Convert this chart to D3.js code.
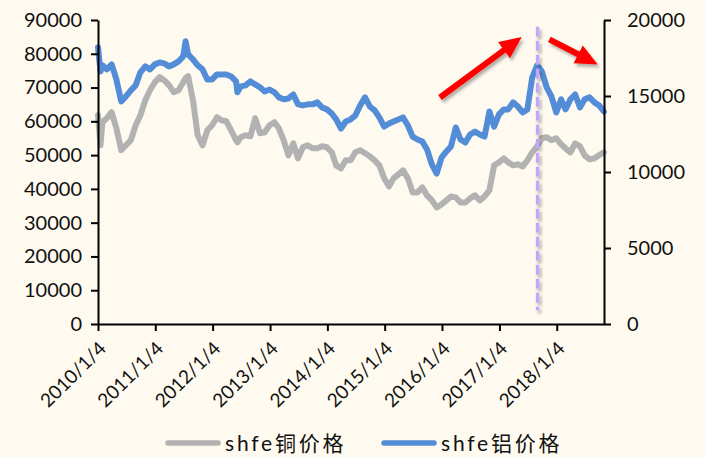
<!DOCTYPE html>
<html>
<head>
<meta charset="utf-8">
<script src="https://cdn.jsdelivr.net/npm/d3@7"></script>
<style>
  html, body { margin: 0; padding: 0; background: #FEFAEF; }
  svg { display: block; }
  text { font-family: Lato, "Noto Sans CJK SC", sans-serif; fill: #111; }
</style>
</head>
<body>
<svg id="chart" width="705" height="457"></svg>
<script>
// SHFE copper (left axis) and aluminium (right axis) prices, CNY/t
const dates = [
  "2010-01-04","2010-01-20","2010-02-01","2010-03-01","2010-04-01","2010-05-01","2010-06-01","2010-07-01","2010-08-01","2010-09-01","2010-10-01","2010-11-01","2010-12-01",
  "2011-01-01","2011-02-01","2011-03-01","2011-04-01","2011-05-01","2011-06-01","2011-07-01","2011-07-16","2011-08-01","2011-09-01","2011-10-01","2011-11-01","2011-12-01",
  "2012-01-01","2012-02-01","2012-03-01","2012-04-01","2012-05-01","2012-06-01","2012-06-10","2012-07-01","2012-08-01","2012-09-01","2012-10-01","2012-11-01","2012-12-01",
  "2013-01-01","2013-02-01","2013-03-01","2013-04-01","2013-05-01","2013-06-01","2013-07-01","2013-08-01","2013-09-01","2013-10-01","2013-11-01","2013-12-01",
  "2014-01-01","2014-02-01","2014-03-01","2014-04-01","2014-05-01","2014-06-01","2014-07-01","2014-08-01","2014-09-01","2014-10-01","2014-11-01","2014-12-01",
  "2015-01-01","2015-02-01","2015-03-01","2015-04-01","2015-05-01","2015-06-01","2015-07-01","2015-08-01","2015-09-01","2015-10-01","2015-11-01","2015-12-01",
  "2016-01-01","2016-02-01","2016-03-01","2016-04-01","2016-05-01","2016-06-01","2016-07-01","2016-08-01","2016-09-01","2016-10-01","2016-11-01","2016-12-01",
  "2017-01-01","2017-02-01","2017-03-01","2017-04-01","2017-05-01","2017-06-01","2017-07-01","2017-08-01","2017-09-01","2017-10-01","2017-11-01","2017-12-01",
  "2018-01-01","2018-02-01","2018-03-01","2018-04-01","2018-05-01","2018-06-01","2018-07-01","2018-08-01","2018-09-01","2018-10-01","2018-10-31"
];

const copper = [
  61780,52900,59730,60910,62690,57950,51420,52900,54390,58840,61800,66250,69220,
  71590,73080,72190,70700,68630,69220,71590,72780,73370,66250,55870,52900,57350,
  58840,61210,60320,60020,57350,54390,53800,55280,55870,55570,60910,56460,56760,
  58840,59730,57950,54390,49940,53500,49050,52310,52900,52010,52010,52610,
  52310,50830,46970,46080,48450,48450,50830,51420,50530,49640,48450,46970,
  43110,40740,43110,44300,45490,43110,38960,38960,40440,38070,36580,34510,
  35400,36580,37770,37470,35990,35990,37180,38070,36580,37770,39550,46970,
  47860,49050,47860,46970,47270,46670,48450,50830,52610,54980,55280,54390,
  54980,53200,52010,50830,53500,52610,49940,48750,49050,49940,50830
];

const aluminum = [
  18200,16620,17020,16750,17080,16090,14640,14970,15370,15700,16560,16950,16750,
  17080,17210,17150,16950,17080,17280,17610,18600,17740,17410,17020,16750,16090,
  16090,16420,16420,16420,16290,15960,15240,15630,15700,15960,15760,15570,15300,
  15430,15240,14910,14780,14840,15100,14450,14380,14450,14450,14580,14250,
  14120,13850,13460,12860,13320,13460,13720,14380,14910,14310,14050,13590,
  12990,13190,13320,13460,13590,13060,12330,12140,12000,11480,10490,9900,
  10950,11350,11680,12930,12140,11940,12470,12660,12470,12330,13980,12990,
  13790,14120,14120,14580,14310,13920,14120,16230,17020,16620,15570,14970,
  13920,14780,14120,14780,15100,14250,14780,14910,14580,14380,13980
];

const xTickLabels = ["2010/1/4","2011/1/4","2012/1/4","2013/1/4","2014/1/4","2015/1/4","2016/1/4","2017/1/4","2018/1/4"];
const leftTicks = [0,10000,20000,30000,40000,50000,60000,70000,80000,90000];
const rightTicks = [0,5000,10000,15000,20000];
const seriesNames = ["shfe铜价格","shfe铝价格"];
const seriesColors = ["#B2B2B2","#548DD7"];

// annotation: peak marker and trend arrows (date, aluminium price)
const peakDate = "2017-09-04";
const arrowUp = [["2015-12-22",14900],["2017-05-26",18880]];
const arrowDown = [["2017-11-18",18730],["2018-09-22",17080]];

const W = 705, H = 457;
const margin = {top: 20, right: 101, bottom: 133, left: 98};
const parse = d3.timeParse("%Y-%m-%d");
const parseTick = d3.timeParse("%Y/%m/%d");

const svg = d3.select("#chart");
svg.append("rect").attr("width", W).attr("height", H).attr("fill", "#FEFAEF");

const defs = svg.append("defs");
const sh = defs.append("filter").attr("id", "shadow")
  .attr("filterUnits", "userSpaceOnUse")
  .attr("x", 0).attr("y", 0).attr("width", W).attr("height", H);
sh.append("feDropShadow").attr("dx", 2).attr("dy", 3).attr("stdDeviation", 1.8)
  .attr("flood-color", "#000").attr("flood-opacity", 0.3);

const x = d3.scaleTime()
  .domain([parse("2010-01-04"), parse("2018-11-01")])
  .range([margin.left, W - margin.right]);
const yL = d3.scaleLinear().domain([0, 90000]).range([H - margin.bottom, margin.top]);
const yR = d3.scaleLinear().domain([0, 20000]).range([H - margin.bottom, margin.top]);

const rows = dates.map((d, i) => ({date: parse(d), cu: copper[i], al: aluminum[i]}));

// series lines
const lineCu = d3.line().x(d => x(d.date)).y(d => yL(d.cu));
const lineAl = d3.line().x(d => x(d.date)).y(d => yR(d.al));
svg.append("path").datum(rows).attr("d", lineCu)
  .attr("fill", "none").attr("stroke", seriesColors[0]).attr("stroke-width", 6)
  .attr("stroke-linejoin", "round").attr("stroke-linecap", "round");
svg.append("path").datum(rows).attr("d", lineAl)
  .attr("fill", "none").attr("stroke", seriesColors[1]).attr("stroke-width", 6)
  .attr("stroke-linejoin", "round").attr("stroke-linecap", "round");

// axes
const axisStyle = g => {
  g.selectAll(".domain").attr("stroke", "#000").attr("stroke-width", 2);
  g.selectAll(".tick line").attr("stroke", "#000").attr("stroke-width", 2);
  g.selectAll("text").attr("font-size", 20).attr("fill", "#111")
    .style("font-family", "Lato, 'Noto Sans CJK SC', sans-serif");
};

svg.append("g").attr("transform", `translate(${margin.left},0)`)
  .call(d3.axisLeft(yL).tickValues(leftTicks).tickFormat(d3.format("d"))
    .tickSize(7).tickSizeOuter(0).tickPadding(9))
  .call(axisStyle);

svg.append("g").attr("transform", `translate(${W - margin.right},0)`)
  .call(d3.axisRight(yR).tickValues(rightTicks).tickFormat(d3.format("d"))
    .tickSize(7).tickSizeOuter(0).tickPadding(16))
  .call(axisStyle);

const xAxis = svg.append("g").attr("transform", `translate(0,${H - margin.bottom})`)
  .call(d3.axisBottom(x).tickValues(xTickLabels.map(s => parseTick(s)))
    .tickFormat((d, i) => xTickLabels[i]).tickSize(7).tickSizeOuter(0))
  .call(axisStyle);
xAxis.selectAll("text")
  .attr("font-size", 19)
  .attr("text-anchor", "end")
  .attr("dy", "0.35em")
  .attr("y", 0)
  .attr("transform", "translate(4,21) rotate(-45)");

// vertical marker at the aluminium peak
const px = x(parse(peakDate));
svg.append("line")
  .attr("x1", px).attr("x2", px)
  .attr("y1", yR(19550)).attr("y2", yR(900))
  .attr("stroke", "#C3A6F7").attr("stroke-width", 3.5)
  .attr("stroke-dasharray", "10,4")
  .attr("filter", "url(#shadow)");

// trend arrows
function arrow(pts) {
  const x0 = x(parse(pts[0][0])), y0 = yR(pts[0][1]);
  const x1 = x(parse(pts[1][0])), y1 = yR(pts[1][1]);
  const dx = x1 - x0, dy = y1 - y0, len = Math.hypot(dx, dy);
  const ux = dx / len, uy = dy / len, nx = -uy, ny = ux;
  const headL = 22, headW = 10, shaft = 3;
  const bx = x1 - ux * headL, by = y1 - uy * headL;
  const p = [
    [x0 + nx * shaft, y0 + ny * shaft],
    [bx + nx * shaft, by + ny * shaft],
    [bx + nx * headW, by + ny * headW],
    [x1, y1],
    [bx - nx * headW, by - ny * headW],
    [bx - nx * shaft, by - ny * shaft],
    [x0 - nx * shaft, y0 - ny * shaft]
  ];
  svg.append("path").attr("d", "M" + p.map(q => q.join(",")).join("L") + "Z")
    .attr("fill", "#FF0000").attr("filter", "url(#shadow)");
}
arrow(arrowUp);
arrow(arrowDown);

// legend
const legend = svg.append("g").attr("transform", `translate(0,${H - 14})`);
const legendX = [166, 382];
seriesNames.forEach((name, i) => {
  const g = legend.append("g").attr("transform", `translate(${legendX[i]},0)`);
  g.append("line").attr("x1", 2).attr("x2", 52).attr("y1", 0).attr("y2", 0)
    .attr("stroke", seriesColors[i]).attr("stroke-width", 5.5).attr("stroke-linecap", "round");
  g.append("text").attr("x", 59).attr("y", 0).attr("dy", "0.36em")
    .attr("font-size", 21).attr("letter-spacing", 2.8).text(name);
});
</script>
</body>
</html>
